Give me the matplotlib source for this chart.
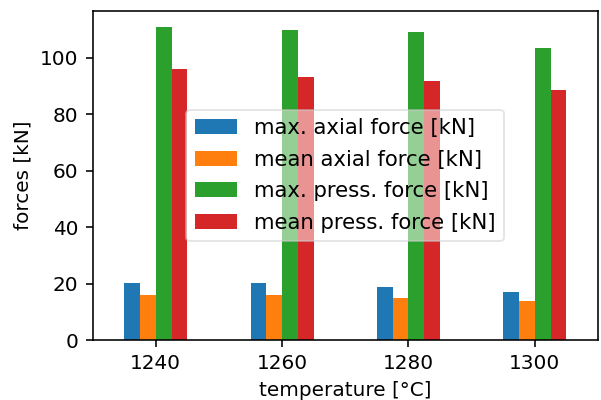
import matplotlib
matplotlib.use("Agg")
import matplotlib.pyplot as plt
import numpy as np

temperatures = ["1240", "1260", "1280", "1300"]
max_axial = [20.3, 20.3, 18.7, 17.1]
mean_axial = [16.1, 16.1, 15.0, 13.8]
max_press = [111.0, 109.8, 109.2, 103.3]
mean_press = [95.9, 93.3, 91.6, 88.4]
series_names = ["max. axial force [kN]", "mean axial force [kN]",
                "max. press. force [kN]", "mean press. force [kN]"]
series = [max_axial, mean_axial, max_press, mean_press]
colors = ["#1f77b4", "#ff7f0e", "#2ca02c", "#d62728"]

fig = plt.figure(figsize=(601/144, 400/144), dpi=144)
ax = fig.add_axes([0.154, 0.15, 0.841, 0.8225])
x = np.arange(len(temperatures))
w = 0.5 / len(series)
for i, (vals, name, c) in enumerate(zip(series, series_names, colors)):
    ax.bar(x + (i - 1.5) * w, vals, w, color=c, label=name)
ax.set_xlim(-0.5, len(temperatures) - 0.5)
ax.set_xticks(x)
ax.set_xticklabels(temperatures)
ax.set_xlabel("temperature [°C]")
ax.set_ylabel("forces [kN]")
leg = ax.legend(loc="center", fontsize=10.6, framealpha=0.5, labelspacing=0.55)
fig.savefig("out.png", dpi=144)
